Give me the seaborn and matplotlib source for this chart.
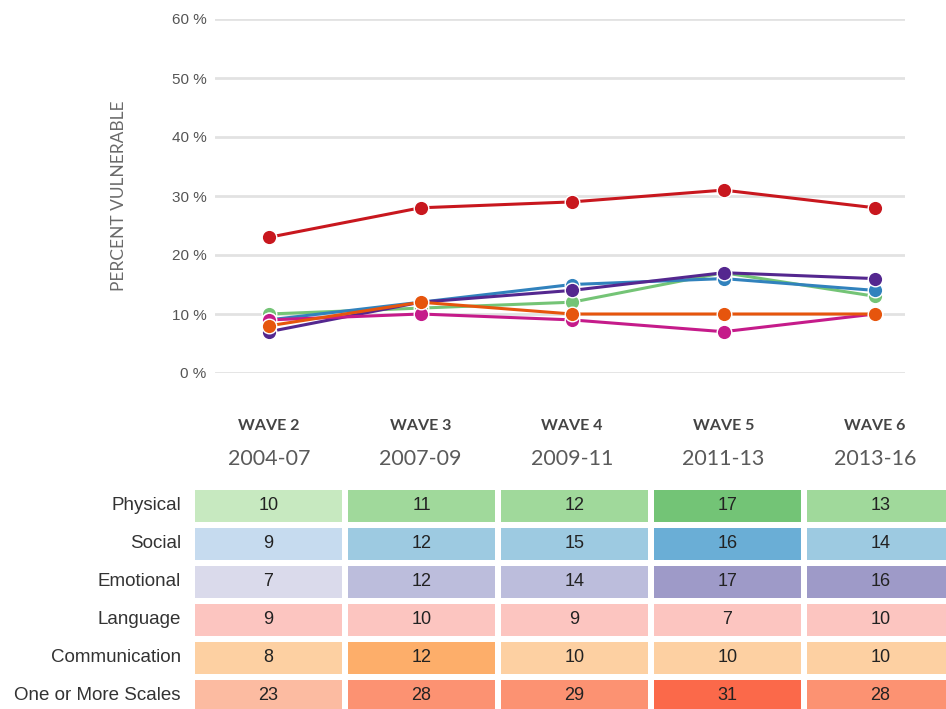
#!/usr/bin/env python3
import matplotlib
matplotlib.use('Agg')
import matplotlib.pyplot as plt
from matplotlib.colors import ListedColormap
import numpy as np
import pandas as pd
import seaborn as sns

WAVES = ['WAVE 2', 'WAVE 3', 'WAVE 4', 'WAVE 5', 'WAVE 6']
PERIODS = ['2004-07', '2007-09', '2009-11', '2011-13', '2013-16']
SCALES = ['Physical', 'Social', 'Emotional', 'Language', 'Communication', 'One or More Scales']

PHYSICAL = [10, 11, 12, 17, 13]
SOCIAL = [9, 12, 15, 16, 14]
EMOTIONAL = [7, 12, 14, 17, 16]
LANGUAGE = [9, 10, 9, 7, 10]
COMMUNICATION = [8, 12, 10, 10, 10]
ONE_OR_MORE = [23, 28, 29, 31, 28]

LINE_COLORS = ['#74c476', '#3182bd', '#54278f', '#c51b8a', '#e6550d', '#c8171e']
# table rows: brewer map, and value range split into three equal shade bins
ROW_CMAPS = ['Greens', 'Blues', 'Purples', 'RdPu', 'Oranges', 'Reds']
ROW_RANGES = [(5.5, 20.5)] * 5 + [(20, 35)]
SHADES = [0.25, 0.375, 0.5]

GRAY = '#555555'


def main():
    sns.set_theme(style='white')
    plt.rcParams['font.family'] = ['Liberation Sans', 'DejaVu Sans']

    rows = [PHYSICAL, SOCIAL, EMOTIONAL, LANGUAGE, COMMUNICATION, ONE_OR_MORE]
    table = pd.DataFrame(rows, index=SCALES, columns=PERIODS)

    long_df = table.reset_index().melt(id_vars='index', var_name='period', value_name='value')
    long_df['x'] = long_df['period'].map({p: i for i, p in enumerate(PERIODS)})

    fig = plt.figure(figsize=(9.46, 7.09), dpi=100)

    # line chart
    ax = fig.add_axes([215 / 946, (709 - 373) / 709, 690 / 946, 354 / 709])
    sns.lineplot(data=long_df, x='x', y='value', hue='index', hue_order=SCALES,
                 palette=LINE_COLORS, marker='o', markersize=10.5, linewidth=2.2,
                 markeredgecolor='white', markeredgewidth=1.0, legend=False, ax=ax)
    for line in ax.lines:
        line.set_clip_on(False)
    ax.set_xlim(-54 / 151.5, 4 + 30 / 151.5)
    ax.set_ylim(0, 60)
    ax.set_yticks(range(0, 61, 10))
    ax.set_yticklabels([f'{v} %' for v in range(0, 61, 10)], color=GRAY, fontsize=11)
    ax.tick_params(axis='y', length=0, pad=6)
    ax.set_xticks([])
    ax.set_xlabel('')
    ax.set_ylabel('PERCENT VULNERABLE', color='#6a6a6a', fontsize=12.5,
                  family=['Lato', 'DejaVu Sans'], labelpad=32)
    ax.grid(axis='y', color='#e2e2e2', linewidth=2)
    ax.set_axisbelow(True)
    sns.despine(ax=ax, left=True, bottom=True)

    trans = ax.get_xaxis_transform()
    for i, (w, p) in enumerate(zip(WAVES, PERIODS)):
        ax.text(i, -0.150, w, transform=trans, ha='center', va='center', fontsize=11.5,
                fontweight='bold', color='#444444', family=['Lato', 'DejaVu Sans'])
        ax.text(i, -0.243, p, transform=trans, ha='center', va='center', fontsize=15.5,
                color='#5a5a5a', family=['Lato', 'DejaVu Sans'])

    # colored table
    tab = fig.add_axes([192 / 946, -6 / 709, 765 / 946, 228 / 709])
    for r, (name, (vmin, vmax)) in enumerate(zip(ROW_CMAPS, ROW_RANGES)):
        base = plt.get_cmap(name)
        cmap = ListedColormap([base(s) for s in SHADES])
        mask = np.ones(table.shape, dtype=bool)
        mask[r, :] = False
        sns.heatmap(table, mask=mask, cmap=cmap, vmin=vmin, vmax=vmax, annot=True, fmt='d',
                    annot_kws={'color': '#222222', 'fontsize': 13}, cbar=False,
                    linewidths=3, linecolor='white', ax=tab)
    tab.set_xticks([])
    tab.set_xlabel('')
    tab.set_ylabel('')
    tab.set_yticklabels(SCALES, rotation=0, fontsize=13.5, color='#333333')
    tab.tick_params(axis='y', length=0, pad=8)

    fig.savefig('out.png', dpi=100)


if __name__ == '__main__':
    main()
